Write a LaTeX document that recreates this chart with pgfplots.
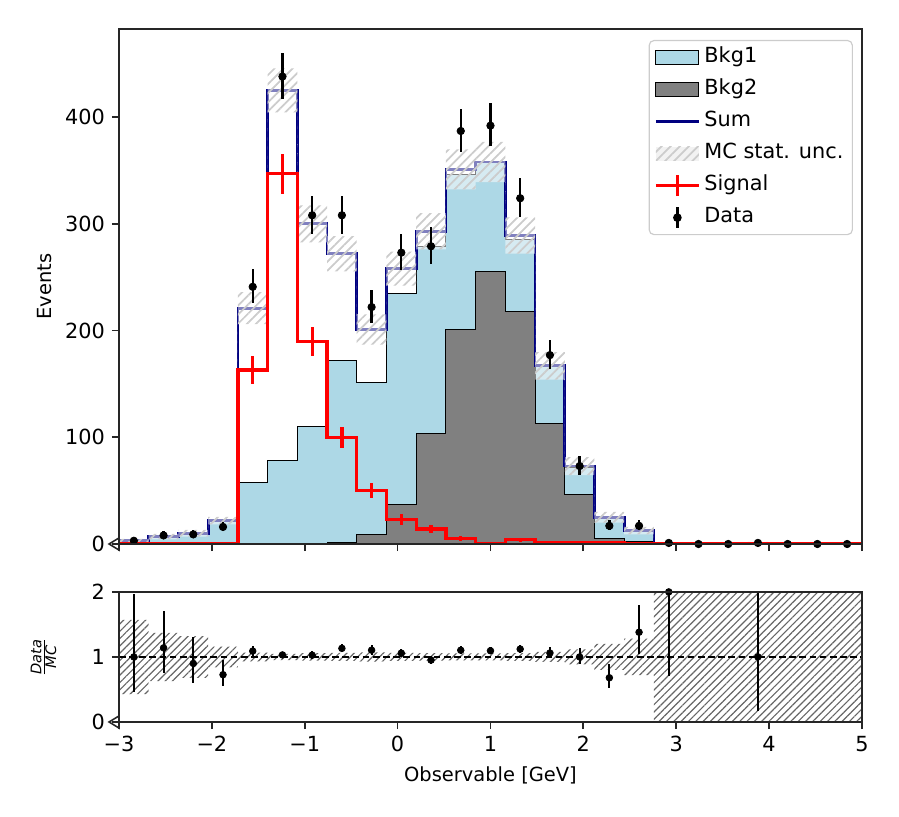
\documentclass[border=0pt]{standalone}
\usepackage{fontspec}
\setmainfont{DejaVu Sans}
\usepackage{pgfplots}
\usepackage{pgfplotstable}
\pgfplotsset{compat=1.18}
\usepgfplotslibrary{fillbetween}
\usetikzlibrary{patterns.meta}
\pgfplotsset{/tikz/fill between/on layer=main}

\definecolor{bkgone}{HTML}{ADD8E6}
\definecolor{bkgtwo}{HTML}{808080}
\definecolor{navyc}{HTML}{000080}
\definecolor{axc}{HTML}{262626}

% bin left edges; last row = right edge of last bin
\pgfplotstableread{
x     bkgtwo bkgtot sig  sum   up    lo    rup   rlo
-3.00 0      2.7    0.3  3     4.7   1.3   1.57  0.43
-2.68 0      6.7    0.3  7     9.6   4.4   1.37  0.63
-2.36 0      9.5    0.5  10    13.2  6.8   1.32  0.68
-2.04 0      21.5   0.5  22    25.5  18.5  1.16  0.84
-1.72 0      58     163  221   236   206   1.068 0.932
-1.40 0      78     347  425   445.6 404.4 1.048 0.952
-1.08 0      110    190  300   317.3 282.7 1.058 0.942
-0.76 1.6    172    100  272   288.5 255.5 1.061 0.939
-0.44 8.5    151    50   201   215.2 186.8 1.071 0.929
-0.12 37     235    23   258   274   242   1.062 0.938
0.20  104    279    14   293   310   276   1.058 0.942
0.52  201    346    5    351   369.7 332.3 1.053 0.947
0.84  255    357.5  0.5  358   376.9 339.1 1.053 0.947
1.16  218    285    4    289   306   272   1.059 0.941
1.48  113    166    1    167   179.9 154.1 1.077 0.923
1.80  46     72     1    73    81.5  64.5  1.116 0.884
2.12  4.7    24     1    25    30    20    1.2   0.8
2.44  2.2    12     0.5  12.5  16    9     1.28  0.72
2.76  0      0.6    0    0.6   1.4   0     2.5   -0.5
3.08  0      0      0    0     0     0     2.5   -0.5
3.40  0      0      0    0     0     0     2.5   -0.5
3.72  0      1      0    1     2     0     2.5   -0.5
4.04  0      0      0    0     0     0     2.5   -0.5
4.36  0      0      0    0     0     0     2.5   -0.5
4.68  0      0      0    0     0     0     2.5   -0.5
5.00  0      0      0    0     0     0     2.5   -0.5
}\mctab

\pgfplotstableread{
xc    sig  serr
-2.84 0.3  0.5
-2.52 0.3  0.5
-2.20 0.5  0.7
-1.88 0.5  0.7
-1.56 163  12.8
-1.24 347  18.6
-0.92 190  13.8
-0.60 100  10
-0.28 50   7.1
0.04  23   4.8
0.36  14   3.7
0.68  5    2.2
1.00  0.5  0.7
1.32  4    2
1.64  1    1
1.96  1    1
2.28  1    1
2.60  0.5  0.7
}\sigtab

\pgfplotstableread{
xc    n    elo   ehi
-2.84 3    1.63  2.92
-2.52 8    2.76  3.94
-2.20 9    2.94  4.10
-1.88 16   3.95  5.08
-1.56 241  15.2  16.5
-1.24 438  20.6  21.9
-0.92 308  17.2  18.5
-0.60 308  17.2  18.5
-0.28 222  14.6  15.9
0.04  273  16.2  17.5
0.36  279  16.4  17.7
0.68  387  19.4  20.7
1.00  392  19.5  20.8
1.32  324  17.7  19.0
1.64  177  13.0  14.3
1.96  73   8.2   9.5
2.28  17   4.08  5.2
2.60  17   4.08  5.2
2.92  1    0.83  2.3
3.24  0    0     0
3.56  0    0     0
3.88  1    0.83  2.3
4.20  0    0     0
4.52  0    0     0
4.84  0    0     0
}\datatab

\pgfplotstableread{
xc    r     elo   ehi
-2.84 1.000 0.54  0.97
-2.52 1.140 0.39  0.56
-2.20 0.900 0.294 0.41
-1.88 0.727 0.18  0.23
-1.56 1.090 0.069 0.075
-1.24 1.031 0.048 0.052
-0.92 1.027 0.057 0.062
-0.60 1.132 0.063 0.068
-0.28 1.104 0.073 0.079
0.04  1.058 0.063 0.068
0.36  0.952 0.056 0.060
0.68  1.103 0.055 0.059
1.00  1.095 0.055 0.058
1.32  1.121 0.061 0.066
1.64  1.060 0.078 0.086
1.96  1.000 0.11  0.13
2.28  0.680 0.16  0.21
2.60  1.380 0.33  0.42
2.92  2.000 1.30  1.00
3.88  1.000 0.83  2.30
}\ratiotab

\pgfplotsset{
  myaxis/.style={
    scale only axis,
    axis on top,
    width=380.4bp,
    xmin=-3, xmax=5,
    xtick={-3,-2,-1,0,1,2,3,4,5},
    tick align=outside,
    xtick pos=bottom, ytick pos=left,
    major tick length=3.7bp,
    major tick style={axc, line width=0.9bp},
    axis line style={axc, line width=0.9bp},
    tick label style={font=\fontsize{10.7}{12.8}\selectfont, text=black},
    label style={font=\fontsize{10.7}{12.8}\selectfont},
  }
}

\begin{document}
\begin{tikzpicture}

\begin{axis}[myaxis, name=main,
  at={(60.93bp,-278.53bp)}, anchor=south west,
  height=263.7bp,
  ymin=0, ymax=482.6,
  xticklabels={},
  ytick={0,100,200,300,400},
  yticklabels={0,100,200,300,400},
  every axis y label/.style={at={(axis description cs:-0.0996,0.5)}, rotate=90, anchor=center},
  ylabel={Events},
  legend style={at={(rel axis cs:1,1)}, anchor=north east, xshift=-4.6bp, yshift=-5.6bp,
    draw=black!20, line width=0.6bp, rounded corners=2.5bp, fill=white, fill opacity=0.8, text opacity=1,
    inner xsep=2.6bp, inner ysep=1.6bp, row sep=2.2bp,
    font=\fontsize{10.7}{12.8}\selectfont,
    nodes={inner sep=2bp, text height=7.8bp, text depth=2.4bp},
    /tikz/every even column/.append style={column sep=7.4bp}},
  legend cell align=left,
]
% stacked backgrounds
\addplot[const plot, fill=bkgone, draw=black, line width=0.5bp, forget plot] table[x=x, y=bkgtot]{\mctab} \closedcycle;
\addplot[const plot, fill=bkgtwo, draw=black, line width=0.5bp, forget plot] table[x=x, y=bkgtwo]{\mctab} \closedcycle;
% sum
\addplot[const plot, navyc, line width=1.4bp, forget plot] table[x=x, y=sum]{\mctab};
% MC stat band
\addplot[name path=bup, const plot, draw=none, forget plot] table[x=x, y=up]{\mctab};
\addplot[name path=blo, const plot, draw=none, forget plot] table[x=x, y=lo]{\mctab};
\addplot[fill=white, fill opacity=0.5, draw=none, forget plot] fill between[of=bup and blo];
\addplot[pattern={Lines[angle=45, distance=3.3bp, line width=0.9bp]}, pattern color=black!20, draw=none, forget plot] fill between[of=bup and blo];
% signal
\addplot[const plot, red, line width=1.7bp, forget plot] table[x=x, y=sig]{\mctab};
\addplot[only marks, mark=*, mark size=0pt, mark options={draw=none, fill=none}, red, forget plot,
  error bars/.cd, y dir=both, y explicit, error bar style={red, line width=1.7bp}, error mark=none]
  table[x=xc, y=sig, y error=serr]{\sigtab};
% data
\addplot[only marks, mark=*, mark size=1.9bp, black, forget plot,
  error bars/.cd, y dir=both, y explicit, error bar style={black, line width=1.2bp}, error mark=none]
  table[x=xc, y=n, y error plus=ehi, y error minus=elo]{\datatab};

% legend
\addlegendimage{legend image code/.code={\draw[sharp corners, fill opacity=1, fill=bkgone, draw=black, line width=0.5bp] (0bp,-3.6bp) rectangle (22bp,3.6bp);}}
\addlegendentry{Bkg1}
\addlegendimage{legend image code/.code={\draw[sharp corners, fill opacity=1, fill=bkgtwo, draw=black, line width=0.5bp] (0bp,-3.6bp) rectangle (22bp,3.6bp);}}
\addlegendentry{Bkg2}
\addlegendimage{legend image code/.code={\draw[sharp corners, navyc, line width=1.4bp] (0bp,0bp) -- (22bp,0bp);}}
\addlegendentry{Sum}
\addlegendimage{legend image code/.code={\path[sharp corners, draw=none, fill opacity=1, fill=white!95!black] (0bp,-3.6bp) rectangle (22bp,3.6bp);
  \path[sharp corners, draw=none, fill opacity=1, pattern={Lines[angle=45, distance=3.3bp, line width=0.9bp]}, pattern color=black!20] (0bp,-3.6bp) rectangle (22bp,3.6bp);}}
\addlegendentry{MC stat. unc.}
\addlegendimage{legend image code/.code={\draw[sharp corners, red, line width=1.7bp] (0bp,0bp) -- (22bp,0bp); \draw[red, line width=1.7bp] (11bp,-5.4bp) -- (11bp,5.4bp);}}
\addlegendentry{Signal}
\addlegendimage{legend image code/.code={\draw[sharp corners, black, line width=1.2bp] (11bp,-5.3bp) -- (11bp,5.3bp); \fill[black, fill opacity=1] (11bp,0bp) circle (1.9bp);}}
\addlegendentry{Data}
\end{axis}

\begin{axis}[myaxis, name=ratio,
  at={(60.93bp,-369.66bp)}, anchor=south west,
  height=66.6bp,
  ymin=0, ymax=2,
  xticklabels={−3,−2,−1,0,1,2,3,4,5},
  ytick={0,1,2},
  yticklabels={0,1,2},
  every axis y label/.style={at={(axis description cs:-0.1017,0.5)}, rotate=90, anchor=center},
  ylabel={$\frac{\mbox{\fontsize{7.5}{9}\selectfont\itshape Data}}{\mbox{\fontsize{7.5}{9}\selectfont\itshape MC}}$},
  every axis x label/.style={at={(axis description cs:0.5,0)}, anchor=center, yshift=-27.2bp},
  xlabel={Observable [GeV]},
]
\addplot[name path=rup, const plot, draw=none, forget plot] table[x=x, y=rup]{\mctab};
\addplot[name path=rlo, const plot, draw=none, forget plot] table[x=x, y=rlo]{\mctab};
\addplot[pattern={Lines[angle=45, distance=2.65bp, line width=0.6bp]}, pattern color=black!60, draw=none, forget plot] fill between[of=rup and rlo];
\addplot[black, dash pattern=on 3.4bp off 1.8bp, line width=0.8bp, forget plot] coordinates {(-3,1) (5,1)};
\addplot[only marks, mark=*, mark size=1.7bp, black, forget plot,
  error bars/.cd, y dir=both, y explicit, error bar style={black, line width=1.1bp}, error mark=none]
  table[x=xc, y=r, y error plus=ehi, y error minus=elo]{\ratiotab};
\end{axis}

\draw[axc, line width=0.8bp, fill=white] (main.south west) ++(0,3.1bp) -- ++(-5.1bp,-3.1bp) -- ++(5.1bp,-3.1bp) -- cycle;
\draw[axc, line width=0.8bp, fill=white] (ratio.south west) ++(0,3.1bp) -- ++(-5.1bp,-3.1bp) -- ++(5.1bp,-3.1bp) -- cycle;

\pgfresetboundingbox
\path[use as bounding box] (0,0) rectangle (460.3bp,-418.3bp);
\end{tikzpicture}
\end{document}
